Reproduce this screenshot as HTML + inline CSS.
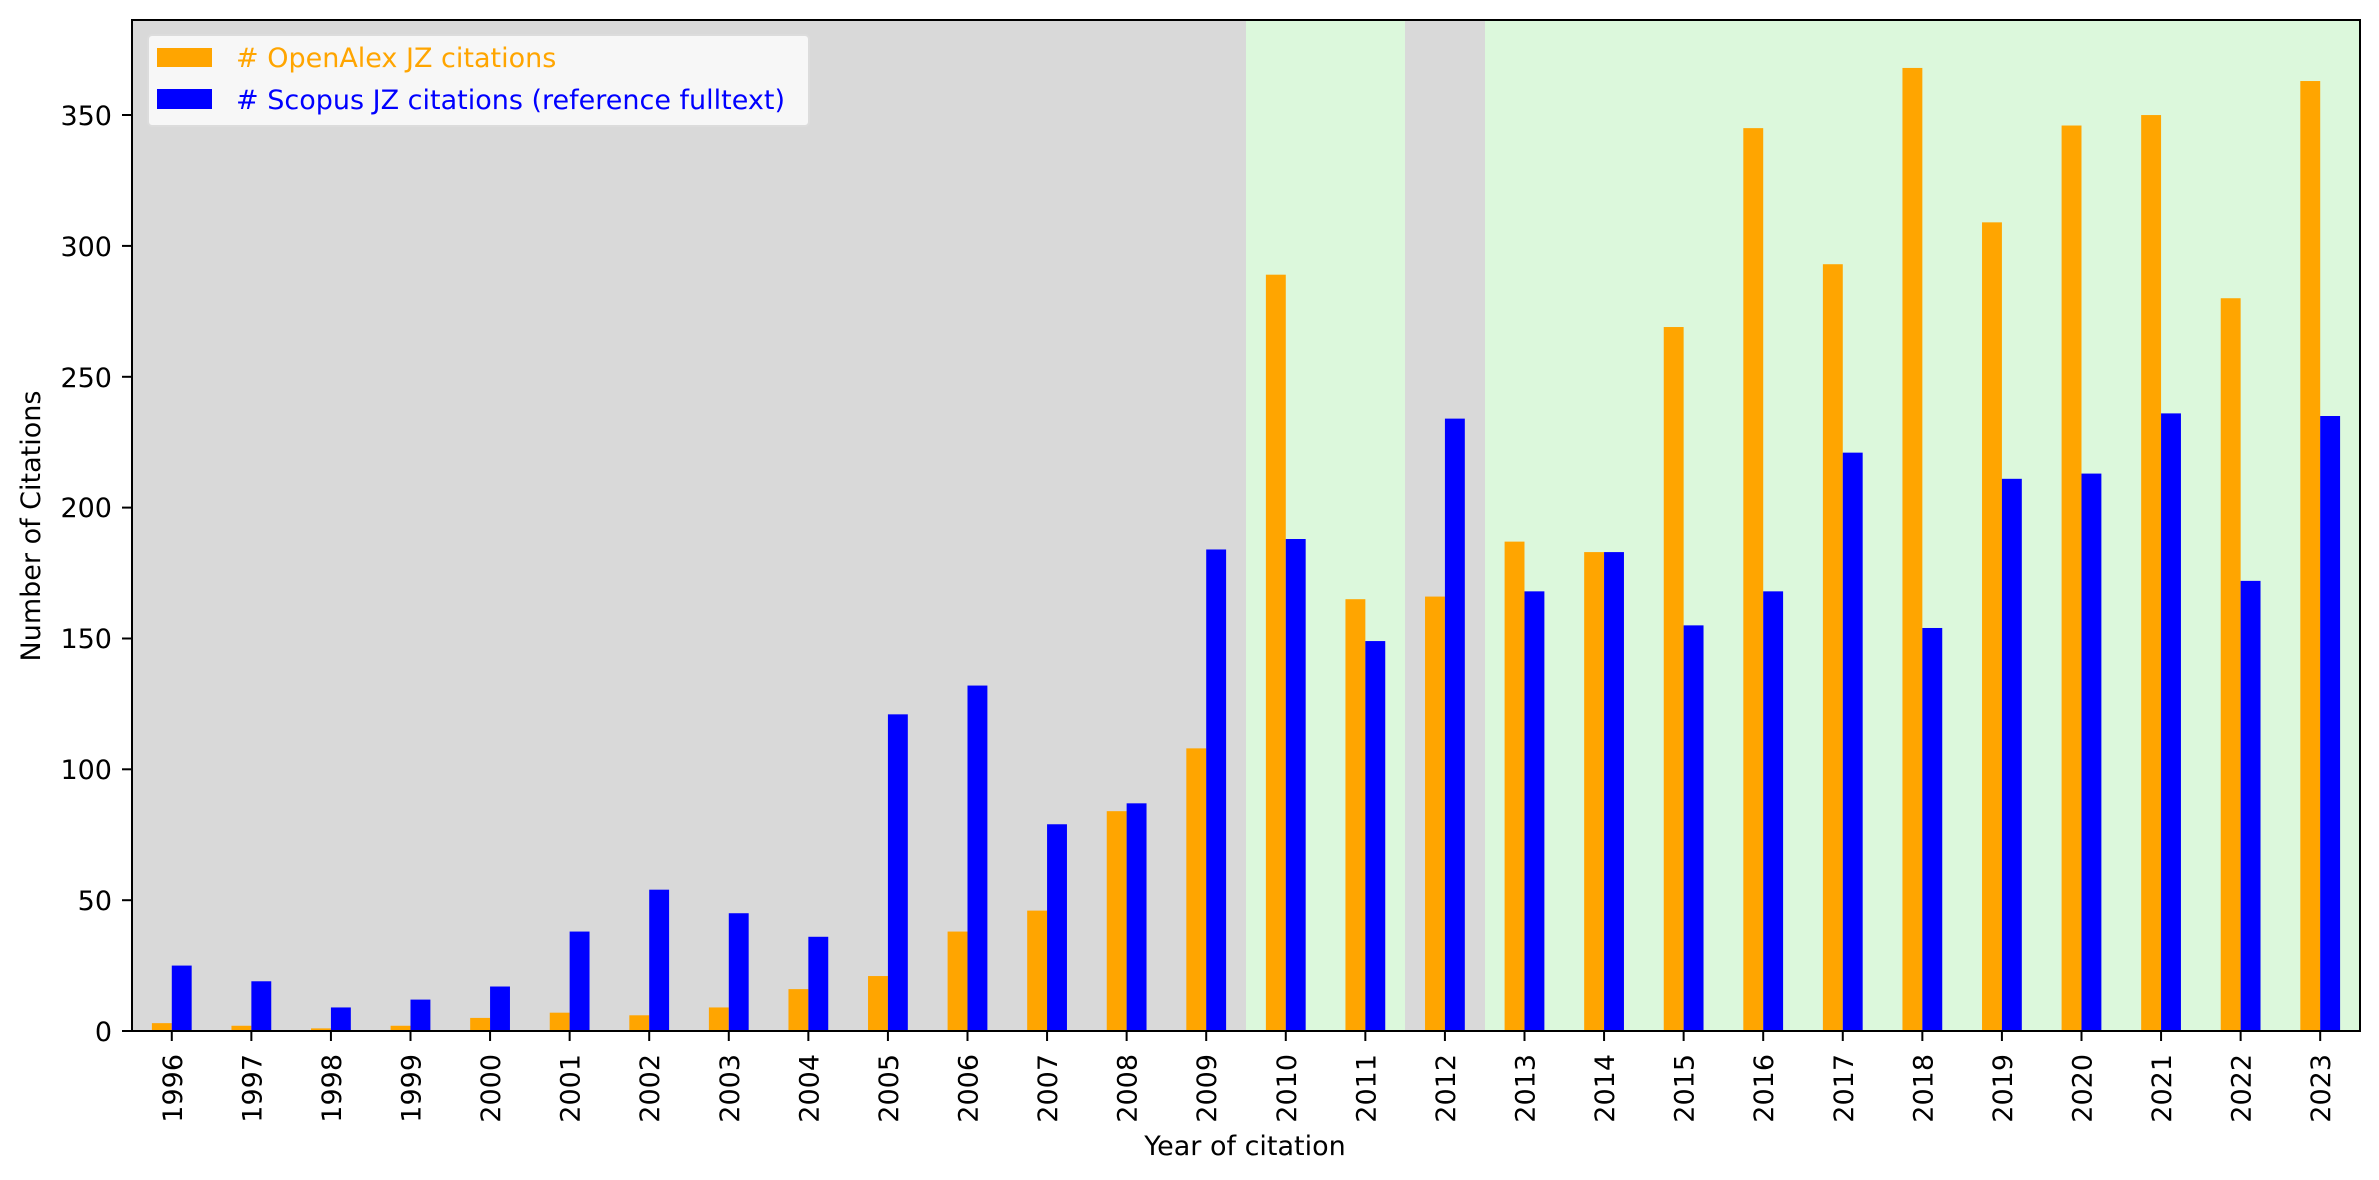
<!DOCTYPE html>
<html><head><meta charset="utf-8"><style>
html,body{margin:0;padding:0;background:#fff;}
svg{display:block;font-family:"DejaVu Sans","Liberation Sans",sans-serif;}
</style></head><body>
<svg id="s" width="2379" height="1180" xmlns="http://www.w3.org/2000/svg">
<rect x="132" y="20" width="2228" height="1011" fill="#d9d9d9"/>
<rect x="1246" y="20" width="159" height="1011" fill="#dcf8dc"/>
<rect x="1485" y="20" width="875" height="1011" fill="#dcf8dc"/>
<g id="bars"></g>
<rect x="132" y="20" width="2228" height="1011" fill="none" stroke="#000" stroke-width="2"/>
<g stroke="#000" stroke-width="2" id="ticks">
<line x1="122" x2="132" y1="1031" y2="1031"/><line x1="122" x2="132" y1="900.2" y2="900.2"/><line x1="122" x2="132" y1="769.3" y2="769.3"/><line x1="122" x2="132" y1="638.5" y2="638.5"/><line x1="122" x2="132" y1="507.6" y2="507.6"/><line x1="122" x2="132" y1="376.8" y2="376.8"/><line x1="122" x2="132" y1="245.9" y2="245.9"/><line x1="122" x2="132" y1="115" y2="115"/>
</g>
<g font-size="27" text-anchor="end" fill="#000">
<text x="112" y="1041">0</text><text x="112" y="910">50</text><text x="112" y="779">100</text><text x="112" y="648">150</text><text x="112" y="517">200</text><text x="112" y="387">250</text><text x="112" y="256">300</text><text x="112" y="125">350</text>
</g>
<g font-size="27" text-anchor="end" id="xl">
<text transform="translate(171.8,1054) rotate(-90)" dy="10">1996</text>
<text transform="translate(251.4,1054) rotate(-90)" dy="10">1997</text>
<text transform="translate(330.9,1054) rotate(-90)" dy="10">1998</text>
<text transform="translate(410.5,1054) rotate(-90)" dy="10">1999</text>
<text transform="translate(490.1,1054) rotate(-90)" dy="10">2000</text>
<text transform="translate(569.6,1054) rotate(-90)" dy="10">2001</text>
<text transform="translate(649.2,1054) rotate(-90)" dy="10">2002</text>
<text transform="translate(728.8,1054) rotate(-90)" dy="10">2003</text>
<text transform="translate(808.4,1054) rotate(-90)" dy="10">2004</text>
<text transform="translate(887.9,1054) rotate(-90)" dy="10">2005</text>
<text transform="translate(967.5,1054) rotate(-90)" dy="10">2006</text>
<text transform="translate(1047.1,1054) rotate(-90)" dy="10">2007</text>
<text transform="translate(1126.6,1054) rotate(-90)" dy="10">2008</text>
<text transform="translate(1206.2,1054) rotate(-90)" dy="10">2009</text>
<text transform="translate(1285.8,1054) rotate(-90)" dy="10">2010</text>
<text transform="translate(1365.4,1054) rotate(-90)" dy="10">2011</text>
<text transform="translate(1444.9,1054) rotate(-90)" dy="10">2012</text>
<text transform="translate(1524.5,1054) rotate(-90)" dy="10">2013</text>
<text transform="translate(1604.1,1054) rotate(-90)" dy="10">2014</text>
<text transform="translate(1683.6,1054) rotate(-90)" dy="10">2015</text>
<text transform="translate(1763.2,1054) rotate(-90)" dy="10">2016</text>
<text transform="translate(1842.8,1054) rotate(-90)" dy="10">2017</text>
<text transform="translate(1922.3,1054) rotate(-90)" dy="10">2018</text>
<text transform="translate(2001.9,1054) rotate(-90)" dy="10">2019</text>
<text transform="translate(2081.5,1054) rotate(-90)" dy="10">2020</text>
<text transform="translate(2161.1,1054) rotate(-90)" dy="10">2021</text>
<text transform="translate(2240.6,1054) rotate(-90)" dy="10">2022</text>
<text transform="translate(2320.2,1054) rotate(-90)" dy="10">2023</text>
</g>
<text x="1245" y="1155" font-size="27" text-anchor="middle">Year of citation</text>
<text transform="translate(40,526) rotate(-90)" font-size="27" text-anchor="middle">Number of Citations</text>
<rect x="148" y="35" width="661" height="91" rx="4" fill="#f7f7f7" stroke="#dcdcdc" stroke-width="2"/>
<rect x="157" y="48" width="55" height="19" fill="#ffa500"/>
<rect x="157" y="89" width="55" height="20" fill="#0000ff"/>
<text x="236" y="67" font-size="27" fill="#ffa500"># OpenAlex JZ citations</text>
<text x="236" y="109" font-size="27" fill="#0000ff"># Scopus JZ citations (reference fulltext)</text>
</svg>
<script>
var o=[3,2,1,2,5,7,6,9,16,21,38,46,84,108,289,165,166,187,183,269,345,293,368,309,346,350,280,363];
var b=[25,19,9,12,17,38,54,45,36,121,132,79,87,184,188,149,234,168,183,155,168,221,154,211,213,236,172,235];
var g=document.getElementById('bars'),t=document.getElementById('ticks'),ns="http://www.w3.org/2000/svg";
var k=2.617,w=79.571;
for(var i=0;i<28;i++){var c=132+w*(i+0.5);
[[o[i],c-w/4,'#ffa500'],[b[i],c,'#0000ff']].forEach(function(d){var r=document.createElementNS(ns,'rect');r.setAttribute('x',d[1]);r.setAttribute('width',w/4);r.setAttribute('y',1031-d[0]*k);r.setAttribute('height',d[0]*k);r.setAttribute('fill',d[2]);g.appendChild(r);});
var l=document.createElementNS(ns,'line');l.setAttribute('x1',c);l.setAttribute('x2',c);l.setAttribute('y1',1031);l.setAttribute('y2',1041);t.appendChild(l);}
</script>
</body></html>
